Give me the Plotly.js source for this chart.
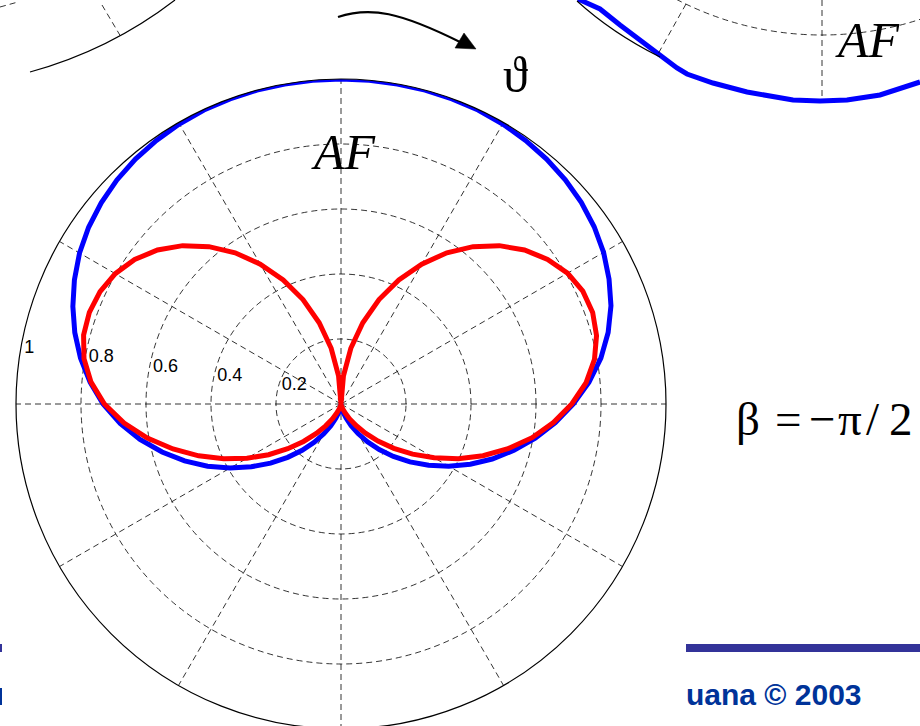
<!DOCTYPE html>
<html><head><meta charset="utf-8">
<script src="https://cdn.plot.ly/plotly-3.0.1.min.js"></script>
<style>html,body{margin:0;padding:0;background:#fff;overflow:hidden}#chart{width:920px;height:730px}</style>
</head><body><div id="chart"></div>
<script>
// angle measured from the top (array axis), clockwise, degrees
const thetaDeg = [0,5,10,15,20,25,30,35,40,45,50,55,60,65,70,75,80,85,90,95,100,105,110,115,120,125,130,135,140,145,150,155,160,165,170,175,180,
  185,190,195,200,205,210,215,220,225,230,235,240,245,250,255,260,265,270,275,280,285,290,295,300,305,310,315,320,325,330,335,340,345,350,355,360];
// |AF| (blue)
const afBlue = [1.000,1.000,1.000,1.000,0.999,0.998,0.995,0.990,0.984,0.976,0.965,0.951,0.933,0.910,0.884,0.851,0.812,0.766,0.715,0.662,0.607,0.551,0.495,0.439,0.383,0.329,0.277,0.228,0.183,0.142,0.105,0.074,0.047,0.027,0.012,0.003,0.000,
  0.003,0.012,0.027,0.047,0.074,0.106,0.144,0.186,0.232,0.283,0.337,0.394,0.453,0.512,0.570,0.628,0.682,0.732,0.775,0.814,0.848,0.878,0.905,0.929,0.948,0.963,0.975,0.984,0.990,0.995,0.998,0.999,1.000,1.000,1.000,1.000];
// total pattern (red)
const patternRed = [0.000,0.087,0.174,0.259,0.342,0.421,0.497,0.568,0.632,0.689,0.737,0.776,0.805,0.821,0.824,0.814,0.792,0.757,0.710,0.656,0.597,0.532,0.465,0.398,0.331,0.269,0.212,0.161,0.117,0.081,0.052,0.031,0.016,0.007,0.002,0.000,0.000,
  0.000,0.002,0.007,0.016,0.031,0.052,0.082,0.118,0.163,0.214,0.272,0.334,0.398,0.466,0.535,0.605,0.670,0.728,0.772,0.803,0.820,0.824,0.818,0.802,0.775,0.737,0.689,0.632,0.568,0.497,0.421,0.342,0.259,0.174,0.087,0.000];
const radialTickVals = [0.2, 0.4, 0.6, 0.8, 1];
const radialTickText = ['0.2', '0.4', '0.6', '0.8', '1'];
// visible piece of the neighbouring (cropped) plot at top right, page pixel units
const fragX = [578,600,620,647,677,687,713,747,793,820,847,880,920];
const fragY = [-1,9,25,46,68,74,83,92,100,101,100,95,82];

const W = 920, H = 730;
const cx = 341, cy = 404, R = 325;
const labelAngle = 278.2;

const traces = [
  {type:'scatter', x:fragX, y:fragY, mode:'lines', line:{color:'#0000ff', width:5}, hoverinfo:'skip', xaxis:'x', yaxis:'y'},
  {type:'scatterpolar', r:afBlue, theta:thetaDeg, mode:'lines', line:{color:'#0000ff', width:5}, hoverinfo:'skip', cliponaxis:false},
  {type:'scatterpolar', r:patternRed, theta:thetaDeg, mode:'lines', line:{color:'#ff0000', width:5}, hoverinfo:'skip', cliponaxis:false},
  {type:'scatterpolar', r:radialTickVals, theta:radialTickVals.map(()=>labelAngle), mode:'text', text:radialTickText.map(t=>'\u00a0'+t),
   textposition:'top right', textfont:{family:'Liberation Sans, Arial, sans-serif', size:18, color:'#000'}, hoverinfo:'skip', cliponaxis:false}
];

const dashG = '6px,4px';
const serif = 'Liberation Serif, Times New Roman, serif';
const layout = {
  width:W, height:H, margin:{l:0,r:0,t:0,b:0}, paper_bgcolor:'#fff', plot_bgcolor:'rgba(0,0,0,0)', showlegend:false,
  xaxis:{range:[0,W], visible:false, domain:[0,1], fixedrange:true},
  yaxis:{range:[H,0], visible:false, domain:[0,1], fixedrange:true},
  polar:{
    domain:{x:[(cx-R)/W, (cx+R)/W], y:[(H-cy-R)/H, (H-cy+R)/H]},
    bgcolor:'rgba(0,0,0,0)',
    angularaxis:{rotation:90, direction:'clockwise', tickmode:'linear', tick0:0, dtick:30, showticklabels:false, ticks:'',
      showline:true, linecolor:'#000', linewidth:1.2, showgrid:true, gridcolor:'#000', gridwidth:0.8, griddash:dashG},
    radialaxis:{range:[0,1], tickmode:'array', tickvals:radialTickVals, showticklabels:false, ticks:'', showline:false,
      showgrid:true, gridcolor:'#000', gridwidth:0.8, griddash:dashG, angle:170}
  },
  shapes:[
    {type:'path', xref:'x', yref:'y', path:'M 30 72 Q 110 50 175 0', line:{color:'#000', width:1.2}},
    {type:'line', xref:'x', yref:'y', x0:102, y0:5, x1:121, y1:37, line:{color:'#000', width:0.8, dash:dashG}},
    {type:'line', xref:'x', yref:'y', x0:0, y0:7, x1:18, y1:2, line:{color:'#000', width:0.8, dash:dashG}},
    {type:'path', xref:'x', yref:'y', path:'M 577 1 Q 612 33 660 57', line:{color:'#000', width:1.1}},
    {type:'circle', xref:'x', yref:'y', x0:507, x1:1137, y0:-595, y1:35, line:{color:'#000', width:0.8, dash:dashG}},
    {type:'line', xref:'x', yref:'y', x0:686, y0:4, x1:658, y1:54, line:{color:'#000', width:0.8, dash:dashG}},
    {type:'line', xref:'x', yref:'y', x0:822, y0:0, x1:822, y1:97, line:{color:'#000', width:0.8, dash:dashG}},
    {type:'path', xref:'x', yref:'y', path:'M 338 17 C 370 6, 400 12, 462 43', line:{color:'#000', width:2.2}},
    {type:'path', xref:'x', yref:'y', path:'M 476 49 L 455 48 L 464 33 Z', fillcolor:'#000', line:{color:'#000', width:0.5}},
    {type:'rect', xref:'x', yref:'y', x0:686, x1:920, y0:644, y1:652, fillcolor:'#333399', line:{width:0}},
    {type:'rect', xref:'x', yref:'y', x0:0, x1:2, y0:644, y1:652, fillcolor:'#333399', line:{width:0}},
    {type:'rect', xref:'x', yref:'y', x0:0, x1:2, y0:688, y1:705, fillcolor:'#003399', line:{width:0}}
  ],
  annotations:[
    {xref:'x', yref:'y', x:343, y:152, text:'<i>AF</i>', showarrow:false, font:{family:serif, size:50, color:'#000'}},
    {xref:'x', yref:'y', x:867, y:40, text:'<i>AF</i>', showarrow:false, font:{family:serif, size:50, color:'#000'}},
    {xref:'x', yref:'y', x:515, y:75, text:'ϑ', showarrow:false, font:{family:'Liberation Serif, DejaVu Serif, serif', size:50, color:'#000'}},
    {xref:'x', yref:'y', x:748, y:419, text:'β', showarrow:false, font:{family:serif, size:47, color:'#000'}},
    {xref:'x', yref:'y', x:788, y:419, text:'=', showarrow:false, font:{family:serif, size:47, color:'#000'}},
    {xref:'x', yref:'y', x:822, y:419, text:'−', showarrow:false, font:{family:serif, size:47, color:'#000'}},
    {xref:'x', yref:'y', x:850, y:419, text:'π', showarrow:false, font:{family:serif, size:47, color:'#000'}},
    {xref:'x', yref:'y', x:873, y:419, text:'/', showarrow:false, font:{family:serif, size:47, color:'#000'}},
    {xref:'x', yref:'y', x:901, y:419, text:'2', showarrow:false, font:{family:serif, size:47, color:'#000'}},
    {xref:'x', yref:'y', x:684, y:694, xanchor:'left', text:'<b>uana © 2003</b>', showarrow:false, font:{family:'Liberation Sans, Arial, sans-serif', size:30, color:'#003399'}}
  ]
};
Plotly.newPlot('chart', traces, layout, {staticPlot:true, displayModeBar:false});
</script></body></html>
